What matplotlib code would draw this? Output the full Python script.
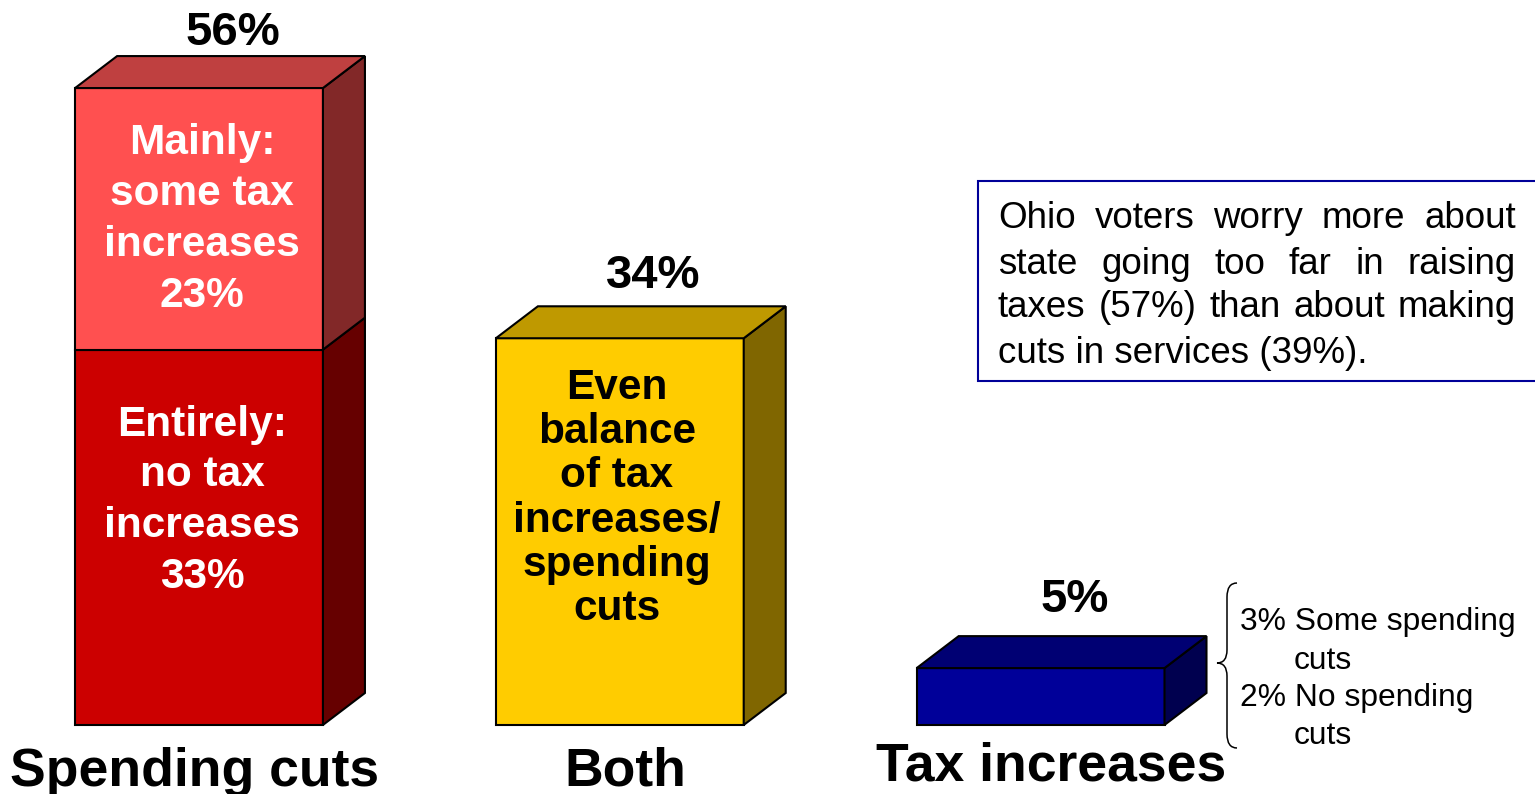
import matplotlib
matplotlib.use('Agg')
import matplotlib.pyplot as plt
from matplotlib.patches import Polygon, Rectangle, PathPatch
from matplotlib.path import Path

plt.rcParams['font.family'] = ['Liberation Sans', 'DejaVu Sans']

# data
categories = ['Spending cuts', 'Both', 'Tax increases']
totals = [56, 34, 5]
spending_parts = [33, 23]
spending_labels = ['Entirely:\nno tax\nincreases\n33%', 'Mainly:\nsome tax\nincreases\n23%']
both_label = 'Even\nbalance\nof tax\nincreases/\nspending\ncuts'
tax_breakdown = ['3% Some spending', 'cuts', '2% No spending', 'cuts']
note_lines = ['Ohio voters worry more about',
              'state going too far in raising',
              'taxes (57%) than about making',
              'cuts in services (39%).']

W, H = 1535, 794
fig = plt.figure(figsize=(W / 100, H / 100), dpi=100)
ax = fig.add_axes([0, 0, 1, 1])
ax.set_xlim(-0.473, 3.175)
ax.set_ylim(-6.07, 63.74)
ax.axis('off')

bw = 0.589
dx = 0.0998
dy = 2.81


def fx(x):
    return x / W


def fy(y):
    return 1 - y / H


def box(xc, y0, y1, front, side, top=None):
    x0 = xc - bw / 2
    x1 = xc + bw / 2
    kw = dict(edgecolor='black', linewidth=1.5, joinstyle='miter')
    ax.add_patch(Polygon([(x0, y0), (x1, y0), (x1, y1), (x0, y1)], facecolor=front, **kw))
    ax.add_patch(Polygon([(x1, y0), (x1 + dx, y0 + dy), (x1 + dx, y1 + dy), (x1, y1)], facecolor=side, **kw))
    if top is not None:
        ax.add_patch(Polygon([(x0, y1), (x1, y1), (x1 + dx, y1 + dy), (x0 + dx, y1 + dy)], facecolor=top, **kw))


# spending cuts stacked bar
box(0, 0, spending_parts[0], '#CC0000', '#660000')
box(0, spending_parts[0], totals[0], '#FF5050', '#822828', '#BF4040')
# both
box(1, 0, totals[1], '#FFCC00', '#806600', '#BF9900')
# tax increases
box(2, 0, totals[2], '#000099', '#00004F', '#000073')

# totals on top
top_off = [2.0, 2.7, 3.2]
for i, t in enumerate(totals):
    ax.text(i + 0.08, t + dy + top_off[i], f'{t}%', ha='center', va='center',
            fontsize=34, fontweight='bold', color='black')

# category labels
cat_dx = [-0.011, 0.012, 0.025]
cat_y = [-5.36, -5.36, -4.84]
for i, c in enumerate(categories):
    ax.text(i + cat_dx[i], cat_y[i], c, ha='center', va='baseline',
            fontsize=38.5, fontweight='bold', color='black')

# inside labels
ax.text(0.007, 19.7, spending_labels[0], ha='center', va='center',
        fontsize=30.5, fontweight='bold', color='white', linespacing=1.35)
ax.text(0.007, 44.45, spending_labels[1], ha='center', va='center',
        fontsize=30.5, fontweight='bold', color='white', linespacing=1.35)
ax.text(1 - 0.007, 19.9, both_label, ha='center', va='center',
        fontsize=30.5, fontweight='bold', color='black', linespacing=1.14)

# note box
fig.patches.append(Rectangle((fx(978), fy(381)), fx(600), 200 / H, transform=fig.transFigure,
                             facecolor='white', edgecolor='#000099', linewidth=1.5))
renderer = fig.canvas.get_renderer()
left, right = 998, 1516
line_y = [219, 264, 308, 353]
for k, line in enumerate(note_lines):
    words = line.split(' ')
    if k == len(note_lines) - 1:
        fig.text(fx(left), fy(line_y[k]), line, fontsize=26.5, ha='left', va='center')
        continue
    texts = [fig.text(0, fy(line_y[k]), w, fontsize=26.5, ha='left', va='center') for w in words]
    widths = [t.get_window_extent(renderer).width for t in texts]
    gap = (right - left - sum(widths)) / (len(words) - 1)
    xpos = left
    for t, w in zip(texts, widths):
        t.set_x(fx(xpos))
        xpos += w + gap

# brace
bp = [(1237, 583), (1227, 583), (1227, 597), (1227, 650), (1227, 663), (1217, 663),
      (1227, 663), (1227, 676), (1227, 734), (1227, 748), (1237, 748)]
codes = [Path.MOVETO, Path.CURVE3, Path.CURVE3, Path.LINETO, Path.CURVE3, Path.CURVE3,
         Path.CURVE3, Path.CURVE3, Path.LINETO, Path.CURVE3, Path.CURVE3]
brace = Path([(fx(x), fy(y)) for x, y in bp], codes)
fig.patches.append(PathPatch(brace, transform=fig.transFigure, facecolor='none',
                             edgecolor='black', linewidth=1.1))

bx = [1240, 1294, 1240, 1294]
by = [622, 661, 698, 736]
for s, x, y in zip(tax_breakdown, bx, by):
    fig.text(fx(x), fy(y), s, fontsize=22.9, ha='left', va='center')

fig.savefig('out.png', dpi=100)
